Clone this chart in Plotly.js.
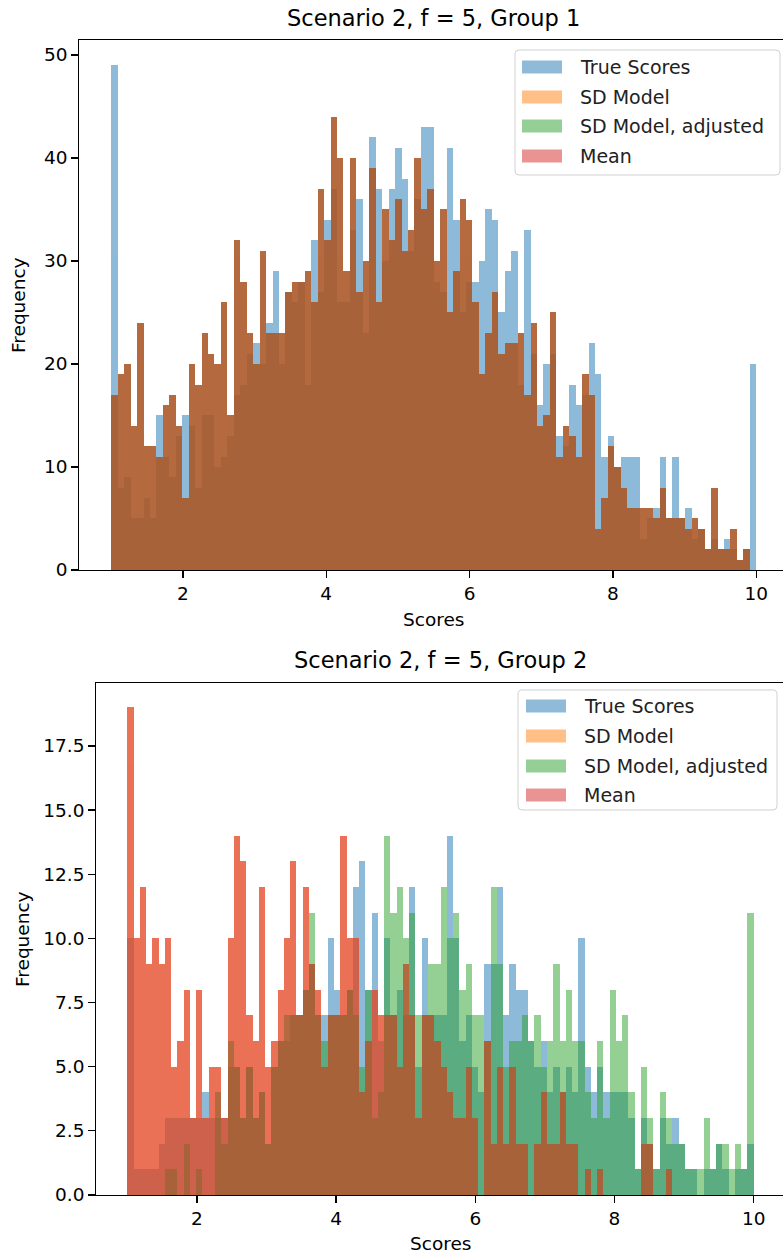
<!DOCTYPE html>
<html>
<head>
<meta charset="utf-8">
<script src="https://cdn.plot.ly/plotly-3.0.0.min.js"></script>
<style>
html,body{margin:0;padding:0;overflow:hidden;background:#fff;width:783px;height:1256px}
#chart{width:800px;height:1256px}
</style>
</head>
<body>
<div id="chart"></div>
<script>
// ---- bins shared by all histograms (score range 1..10, 100 bins) ----
const BIN_LO = 1, BIN_HI = 10, N_BINS = 100;

// ---- series names / colours ----
const seriesNames = ['True Scores', 'SD Model', 'SD Model, adjusted', 'Mean'];
const seriesColors = ['#1f77b4', '#ff7f0e', '#2ca02c', '#d62728'];
const chartTitles = ['Scenario 2, f = 5, Group 1', 'Scenario 2, f = 5, Group 2'];
const xTickVals = [2, 4, 6, 8, 10];
const y1TickVals = [0, 10, 20, 30, 40, 50];
const y2TickVals = [0, 2.5, 5, 7.5, 10, 12.5, 15, 17.5];
const y2TickText = ['0.0', '2.5', '5.0', '7.5', '10.0', '12.5', '15.0', '17.5'];

// ---- Group 1 counts per bin ----
const g1_true = [
  49,8,9,5,5,7,5,15,11,9,13,15,14,8,15,15,10,11,13,17,18,21,22,20,24,
  29,20,27,26,28,18,32,27,34,37,26,26,33,36,23,42,37,30,37,41,38,31,36,43,43,
  28,27,41,34,25,28,28,30,35,34,25,29,31,18,33,21,16,20,21,13,12,18,16,17,22,
  19,11,13,10,11,11,11,3,5,6,11,5,11,5,6,3,4,2,3,2,3,2,1,2,20];
const g1_sd = [
  17,19,20,14,24,12,12,11,16,17,14,7,20,18,23,21,20,26,15,32,28,23,20,31,23,
  23,23,27,28,28,29,26,37,32,44,40,29,40,27,30,39,26,35,32,36,31,33,40,35,37,
  30,35,25,29,36,34,26,19,23,27,21,22,22,23,17,24,14,15,25,11,14,13,11,19,17,
  4,7,12,10,8,6,6,6,6,5,8,5,5,5,4,5,4,2,8,2,2,4,1,2,0];
const g1_sdAdj = [
  17,19,20,14,24,12,12,11,16,17,14,7,20,18,23,21,20,26,15,32,28,23,20,31,23,
  23,23,27,28,28,29,26,37,32,44,40,29,40,27,30,39,26,35,32,36,31,33,40,35,37,
  30,35,25,29,36,34,26,19,23,27,21,22,22,23,17,24,14,15,25,11,14,13,11,19,17,
  4,7,12,10,8,6,6,6,6,5,8,5,5,5,4,5,4,2,8,2,2,4,1,2,0];
const g1_mean = [
  17,19,20,14,24,12,12,11,16,17,14,7,20,18,23,21,20,26,15,32,28,23,20,31,23,
  23,23,27,28,28,29,26,37,32,44,40,29,40,27,30,39,26,35,32,36,31,33,40,35,37,
  30,35,25,29,36,34,26,19,23,27,21,22,22,23,17,24,14,15,25,11,14,13,11,19,17,
  4,7,12,10,8,6,6,6,6,5,8,5,5,5,4,5,4,2,8,2,2,4,1,2,0];

// ---- Group 2 counts per bin ----
const g2_true = [
  10,1,1,1,1,2,3,3,3,3,3,3,4,3,3,3,5,5,3,5,3,4,2,5,6,
  6,7,7,8,9,7,7,10,8,7,8,12,13,8,11,6,10,7,8,7,12,5,10,7,7,
  7,14,10,6,7,5,4,9,9,12,7,9,8,8,6,5,6,4,5,4,5,4,10,5,4,
  5,4,4,4,4,3,1,3,2,1,3,2,3,2,1,1,0,1,1,2,1,0,1,1,2];
const g2_sd = [
  19,10,12,9,10,9,10,5,6,8,3,8,3,5,5,3,10,14,13,7,6,12,5,6,8,
  10,13,7,12,9,8,5,7,7,14,10,10,4,6,8,7,7,7,5,9,7,3,7,7,6,
  5,4,3,3,5,3,0,6,2,5,2,5,2,2,0,2,4,2,2,4,2,2,0,1,0,
  1,0,0,0,0,0,0,2,2,0,0,1,0,0,0,0,0,0,0,0,0,0,0,0,0];
const g2_sdAdj = [
  0,0,0,0,0,0,1,1,0,2,0,1,0,0,4,2,6,5,3,5,3,4,2,5,6,
  7,7,7,8,11,7,6,7,7,7,8,7,5,8,3,4,14,11,12,10,11,7,7,9,9,
  12,10,11,8,9,7,7,6,12,9,5,6,6,7,6,7,5,6,9,6,8,6,6,4,3,
  6,3,8,6,7,4,1,5,3,1,4,3,2,2,1,1,1,3,1,2,2,1,2,1,11];
const g2_mean = [
  19,10,12,9,10,9,10,5,6,8,3,8,3,5,5,3,10,14,13,7,6,12,5,6,8,
  10,13,7,12,9,8,5,7,7,14,10,10,4,6,8,7,7,7,5,9,7,3,7,7,6,
  5,4,3,3,5,3,0,6,2,5,2,5,2,2,0,2,4,2,2,4,2,2,0,1,0,
  1,0,0,0,0,0,0,2,2,0,0,1,0,0,0,0,0,0,0,0,0,0,0,0,0];

// ---------------------------------------------------------------
const W = 800, H = 1256;
const FONT = 'DejaVu Sans, Verdana, sans-serif';
const binWidth = (BIN_HI - BIN_LO) / N_BINS;
const binCenters = Array.from({length: N_BINS}, (_, i) => BIN_LO + (i + 0.5) * binWidth);

function hexToRgba(hex, a) {
  const n = parseInt(hex.slice(1), 16);
  return `rgba(${(n >> 16) & 255},${(n >> 8) & 255},${n & 255},${a})`;
}

function makeTraces(seriesList, xa, ya) {
  return seriesList.map((vals, i) => ({
    type: 'bar', x: binCenters, y: vals, width: binWidth,
    name: seriesNames[i], xaxis: xa, yaxis: ya,
    marker: {color: seriesColors[i], line: {width: 0}},
    opacity: 0.5, showlegend: false, hoverinfo: 'skip'
  }));
}

const traces = [
  ...makeTraces([g1_true, g1_sd, g1_sdAdj, g1_mean], 'x', 'y'),
  ...makeTraces([g2_true, g2_sd, g2_sdAdj, g2_mean], 'x2', 'y2')
];

const px = x => x / W;
const py = y => 1 - y / H;

function axisBase() {
  return {
    showline: true, linecolor: '#000', linewidth: 1.3, mirror: true,
    ticks: 'outside', ticklen: 6.5, tickwidth: 1.3, tickcolor: '#000',
    showgrid: false, zeroline: false, fixedrange: true,
    tickfont: {family: FONT, size: 18.5, color: '#000'}
  };
}

const shapes = [], annotations = [];

function addLegend(l, t, r, b, rows, pl, pr, ph, tx) {
  const rad = 4;
  const P = (x, y) => `${px(x).toFixed(5)},${py(y).toFixed(5)}`;
  shapes.push({
    type: 'path', xref: 'paper', yref: 'paper', layer: 'above',
    path: `M ${P(l + rad, t)} L ${P(r - rad, t)} Q ${P(r, t)} ${P(r, t + rad)} L ${P(r, b - rad)} Q ${P(r, b)} ${P(r - rad, b)} L ${P(l + rad, b)} Q ${P(l, b)} ${P(l, b - rad)} L ${P(l, t + rad)} Q ${P(l, t)} ${P(l + rad, t)} Z`,
    fillcolor: 'rgba(255,255,255,0.8)', line: {color: '#d0d0d0', width: 1}
  });
  rows.forEach((ry, i) => {
    shapes.push({
      type: 'rect', xref: 'paper', yref: 'paper', layer: 'above',
      x0: px(pl), x1: px(pr), y0: py(ry - ph / 2), y1: py(ry + ph / 2),
      fillcolor: hexToRgba(seriesColors[i], 0.5), line: {width: 0}
    });
    annotations.push({
      text: seriesNames[i], xref: 'paper', yref: 'paper', x: px(tx), y: py(ry),
      xanchor: 'left', yanchor: 'middle', showarrow: false,
      font: {family: FONT, size: 19, color: '#222'}
    });
  });
}

function addText(text, x, y, size, angle) {
  annotations.push({
    text, xref: 'paper', yref: 'paper', x: px(x), y: py(y),
    xanchor: 'center', yanchor: 'middle', showarrow: false, textangle: angle || 0,
    font: {family: FONT, size, color: '#000'}
  });
}

// plot areas (pixels)
const A1 = {l: 79, r: 788.5, t: 40, b: 570};
const A2 = {l: 96, r: 785, t: 683, b: 1195};

addText(chartTitles[0], (A1.l + A1.r) / 2, 18, 22.5);
addText(chartTitles[1], (A2.l + A2.r) / 2, 660, 22.5);
addText('Scores', (A1.l + A1.r) / 2, 619, 18.5);
addText('Scores', (A2.l + A2.r) / 2, 1243, 18.5);
addText('Frequency', 19, (A1.t + A1.b) / 2, 18.5, -90);
addText('Frequency', 22, (A2.t + A2.b) / 2, 18.5, -90);

addLegend(515, 50, 780, 175, [67, 97, 126, 156], 522, 562, 13, 578);
addLegend(518, 690, 777, 810, [706, 736, 766, 795], 526, 566, 13, 582);

const layout = {
  width: W, height: H,
  margin: {l: 0, r: 0, t: 0, b: 0},
  paper_bgcolor: '#fff', plot_bgcolor: '#fff',
  barmode: 'overlay', bargap: 0,
  showlegend: false,
  font: {family: FONT, color: '#000'},
  xaxis: Object.assign(axisBase(), {domain: [px(A1.l), px(A1.r)], anchor: 'y', range: [0.55, 10.45], tickvals: xTickVals}),
  yaxis: Object.assign(axisBase(), {domain: [py(A1.b), py(A1.t)], anchor: 'x', range: [0, 51.45], tickvals: y1TickVals}),
  xaxis2: Object.assign(axisBase(), {domain: [px(A2.l), px(A2.r)], anchor: 'y2', range: [0.55, 10.45], tickvals: xTickVals}),
  yaxis2: Object.assign(axisBase(), {domain: [py(A2.b), py(A2.t)], anchor: 'x2', range: [0, 19.95], tickvals: y2TickVals, ticktext: y2TickText}),
  shapes, annotations
};

Plotly.newPlot('chart', traces, layout, {displayModeBar: false, staticPlot: true});
</script>
</body>
</html>
